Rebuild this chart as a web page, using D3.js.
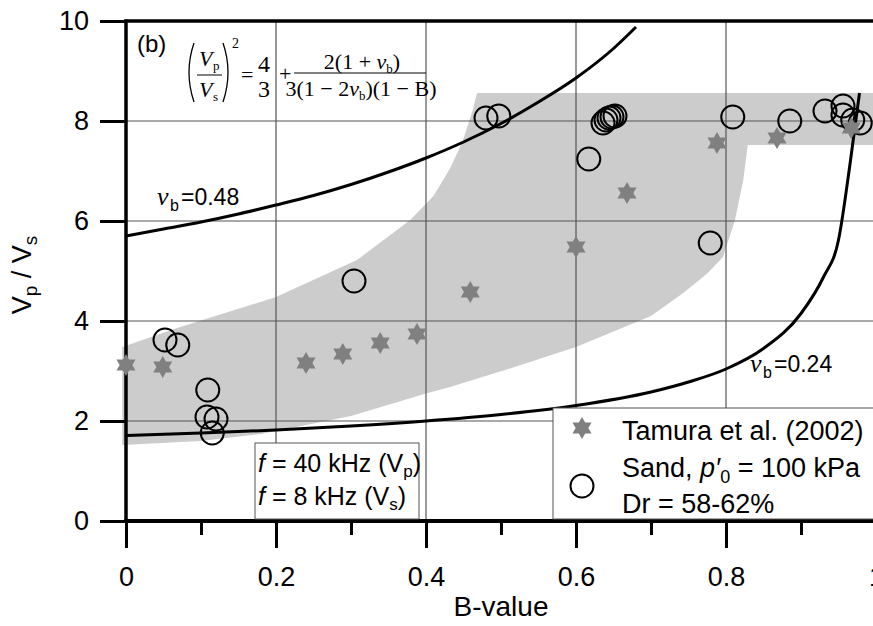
<!DOCTYPE html>
<html lang="en">
<head>
<meta charset="UTF-8">
<title>Vp/Vs vs B-value</title>
<script src="https://cdn.jsdelivr.net/npm/d3@7"></script>
<style>
  body { margin: 0; background: #fff; }
  svg { display: block; font-family: "Liberation Sans", Arial, sans-serif; }
</style>
</head>
<body>
<script>
// values
const xTickValues = [0, 0.2, 0.4, 0.6, 0.8, 1]
const xTickLabels = ['0', '0.2', '0.4', '0.6', '0.8', '1']
const xMinorTicks = [0.1, 0.3, 0.5, 0.7, 0.9]
const yTickValues = [0, 2, 4, 6, 8, 10]

// Tamura et al. (2002) - stars
const tamuraB = [0, 0.049, 0.24, 0.289, 0.339, 0.388, 0.459, 0.6, 0.668, 0.788, 0.868, 0.967]
const tamuraV = [3.12, 3.08, 3.16, 3.34, 3.56, 3.74, 4.58, 5.48, 6.56, 7.56, 7.66, 7.86]

// Sand, p'0 = 100 kPa - circles
const sandB = [0.052, 0.069, 0.109, 0.108, 0.120, 0.115, 0.304, 0.480, 0.497, 0.617,
               0.636, 0.640, 0.644, 0.648, 0.652, 0.779, 0.809, 0.885, 0.932, 0.956, 0.956, 0.969, 0.979]
const sandV = [3.62, 3.52, 2.62, 2.08, 2.04, 1.76, 4.80, 8.06, 8.10, 7.24,
               7.96, 8.02, 8.06, 8.08, 8.10, 5.56, 8.08, 8.00, 8.20, 8.30, 8.12, 8.02, 7.96]

// theoretical curves
const curve48B = [0, 0.05, 0.1, 0.15, 0.2, 0.25, 0.3, 0.35, 0.4, 0.45, 0.5, 0.55, 0.6, 0.65, 0.68]
const curve48V = [5.70, 5.84, 5.98, 6.14, 6.32, 6.51, 6.73, 6.98, 7.26, 7.58, 7.95, 8.38, 8.86, 9.45, 9.88]
const curve24B = [0, 0.1, 0.2, 0.3, 0.4, 0.5, 0.6, 0.7, 0.75, 0.8, 0.85, 0.9, 0.93, 0.95, 0.965, 0.978]
const curve24V = [1.71, 1.76, 1.82, 1.90, 2.00, 2.13, 2.31, 2.58, 2.78, 3.04, 3.45, 4.15, 4.88, 5.62, 7.1, 8.56]

// grey band
const bandUpperB = [-0.005, 0.068, 0.2, 0.308, 0.379, 0.41, 0.432, 0.449, 0.462, 0.468, 1.0]
const bandUpperV = [3.48, 3.86, 4.48, 5.22, 6.02, 6.5, 7.05, 7.6, 8.2, 8.56, 8.56]
const bandLowerB = [-0.005, 0.1, 0.18, 0.3, 0.4, 0.432, 0.512, 0.6, 0.7, 0.743, 0.775, 0.796, 0.812, 0.823, 0.829, 1.0]
const bandLowerV = [1.52, 1.60, 1.74, 2.10, 2.55, 2.68, 3.05, 3.48, 4.10, 4.56, 4.95, 5.28, 6.02, 6.82, 7.52, 7.52]

const width = 873
const height = 626

const x = d3.scaleLinear().domain([0, 1]).range([126, 876])
const y = d3.scaleLinear().domain([0, 10]).range([521, 21])

const svg = d3.select('body').append('svg')
    .attr('width', width)
    .attr('height', height)

// shaded band
const upper = bandUpperB.map((b, i) => [b, bandUpperV[i]])
const lower = bandLowerB.map((b, i) => [b, bandLowerV[i]])
const band = upper.concat(lower.slice().reverse())
svg.append('path')
    .attr('d', d3.line().x(d => x(d[0])).y(d => y(d[1]))(band) + 'Z')
    .attr('fill', '#cccccc')

// grid
const grid = svg.append('g').attr('stroke', '#555').attr('stroke-width', 1.2)
grid.selectAll('line.v')
    .data([0.2, 0.4, 0.6, 0.8])
    .enter().append('line')
    .attr('x1', d => x(d)).attr('x2', d => x(d))
    .attr('y1', y(10)).attr('y2', y(0))
grid.selectAll('line.h')
    .data([2, 4, 6, 8])
    .enter().append('line')
    .attr('x1', x(0)).attr('x2', width)
    .attr('y1', d => y(d)).attr('y2', d => y(d))

// curves
const curveLine = d3.line().x(d => x(d[0])).y(d => y(d[1])).curve(d3.curveMonotoneX)
svg.append('path')
    .attr('d', curveLine(curve48B.map((b, i) => [b, curve48V[i]])))
    .attr('fill', 'none').attr('stroke', '#000').attr('stroke-width', 3)
svg.append('path')
    .attr('d', curveLine(curve24B.map((b, i) => [b, curve24V[i]])))
    .attr('fill', 'none').attr('stroke', '#000').attr('stroke-width', 3)

// axes
const xAxis = svg.append('g')
    .attr('transform', `translate(0,${y(0)})`)
    .call(d3.axisBottom(x).tickValues(xTickValues).tickFormat((d, i) => xTickLabels[i]).tickSize(27).tickPadding(19))
xAxis.select('.domain').remove()
xAxis.selectAll('line').attr('stroke-width', 3)
xAxis.selectAll('text').attr('font-size', 27).attr('font-family', 'Liberation Sans, Arial').attr('fill', '#000')

const xMinor = svg.append('g')
    .attr('transform', `translate(0,${y(0)})`)
    .call(d3.axisBottom(x).tickValues(xMinorTicks).tickFormat('').tickSize(14))
xMinor.select('.domain').remove()
xMinor.selectAll('line').attr('stroke-width', 3)

const yAxis = svg.append('g')
    .attr('transform', `translate(${x(0)},0)`)
    .call(d3.axisLeft(y).tickValues(yTickValues).tickSize(26).tickPadding(11))
yAxis.select('.domain').remove()
yAxis.selectAll('line').attr('stroke-width', 3)
yAxis.selectAll('text').attr('font-size', 27).attr('font-family', 'Liberation Sans, Arial').attr('fill', '#000')

svg.append('line')
    .attr('x1', x(0)).attr('x2', x(0)).attr('y1', y(10) - 1.5).attr('y2', y(0) + 2)
    .attr('stroke', '#000').attr('stroke-width', 3.5)
svg.append('line')
    .attr('x1', x(0) - 1.5).attr('x2', width).attr('y1', y(0)).attr('y2', y(0))
    .attr('stroke', '#000').attr('stroke-width', 4)
svg.append('line')
    .attr('x1', x(0) - 1.5).attr('x2', width).attr('y1', y(10)).attr('y2', y(10))
    .attr('stroke', '#000').attr('stroke-width', 3.5)

// axis titles
svg.append('text')
    .attr('x', 501).attr('y', 616)
    .attr('text-anchor', 'middle')
    .attr('font-size', 28)
    .text('B-value')

const yTitle = svg.append('text')
    .attr('transform', 'translate(31,275) rotate(-90)')
    .attr('text-anchor', 'middle')
    .attr('font-size', 27)
yTitle.append('tspan').text('V')
yTitle.append('tspan').attr('font-size', 19).attr('dy', 6).text('p')
yTitle.append('tspan').attr('dy', -6).text(' / V')
yTitle.append('tspan').attr('font-size', 19).attr('dy', 6).text('s')

// hexagram marker
function hexagram(R) {
    const r = R / Math.sqrt(3)
    const pts = []
    for (let k = 0; k < 12; k++) {
        const a = (-90 + k * 30) * Math.PI / 180
        const rad = k % 2 === 0 ? R : r
        pts.push([rad * Math.cos(a), rad * Math.sin(a)])
    }
    return 'M' + pts.map(p => p.join(',')).join('L') + 'Z'
}

// markers
svg.append('g')
    .selectAll('circle')
    .data(sandB.map((b, i) => [b, sandV[i]]))
    .enter().append('circle')
    .attr('cx', d => x(d[0]))
    .attr('cy', d => y(d[1]))
    .attr('r', 11.5)
    .attr('fill', 'none')
    .attr('stroke', '#000')
    .attr('stroke-width', 2)

svg.append('g')
    .selectAll('path')
    .data(tamuraB.map((b, i) => [b, tamuraV[i]]))
    .enter().append('path')
    .attr('d', hexagram(11))
    .attr('transform', d => `translate(${x(d[0])},${y(d[1])})`)
    .attr('fill', '#808080')

// curve labels
function nuLabel(x0, yb, eqX, value) {
    const g = svg.append('g')
    g.append('text').attr('x', x0).attr('y', yb)
        .attr('font-family', 'Liberation Serif, Times New Roman, serif')
        .attr('font-style', 'italic').attr('font-size', 26).text('ν')
    g.append('text').attr('x', x0 + 13).attr('y', yb + 6)
        .attr('font-size', 16).text('b')
    g.append('text').attr('x', eqX).attr('y', yb)
        .attr('font-size', 23).text('=' + value)
}
nuLabel(157, 205, 181, '0.48')
nuLabel(750, 372, 774, '0.24')

// panel label and equation
svg.append('text').attr('x', 137).attr('y', 52).attr('font-size', 24).text('(b)')

const eq = svg.append('g')
    .attr('font-family', 'Liberation Serif, Times New Roman, serif')
    .attr('font-size', 22)
eq.append('path').attr('d', 'M194,43 Q184,72 194,102').attr('fill', 'none').attr('stroke', '#000').attr('stroke-width', 1.3)
eq.append('path').attr('d', 'M223,43 Q233,72 223,102').attr('fill', 'none').attr('stroke', '#000').attr('stroke-width', 1.3)
eq.append('text').attr('x', 199).attr('y', 66).attr('font-style', 'italic').text('V')
eq.append('text').attr('x', 213).attr('y', 70).attr('font-size', 13).text('p')
eq.append('line').attr('x1', 197).attr('x2', 222).attr('y1', 75).attr('y2', 75).attr('stroke', '#000').attr('stroke-width', 1)
eq.append('text').attr('x', 199).attr('y', 97).attr('font-style', 'italic').text('V')
eq.append('text').attr('x', 213).attr('y', 101).attr('font-size', 13).text('s')
eq.append('text').attr('x', 232).attr('y', 48).attr('font-size', 14).text('2')
eq.append('text').attr('x', 241).attr('y', 82).text('=')
eq.append('text').attr('x', 258).attr('y', 72).attr('font-size', 24).text('4')
eq.append('text').attr('x', 258).attr('y', 97).attr('font-size', 24).text('3')
eq.append('text').attr('x', 279).attr('y', 81).text('+')
const num = eq.append('text').attr('x', 362).attr('y', 69).attr('text-anchor', 'middle')
num.append('tspan').text('2(1 + ')
num.append('tspan').attr('font-style', 'italic').text('ν')
num.append('tspan').attr('font-size', 13).attr('dy', 4).text('b')
num.append('tspan').attr('dy', -4).text(')')
eq.append('line').attr('x1', 294).attr('x2', 426).attr('y1', 73).attr('y2', 73).attr('stroke', '#000').attr('stroke-width', 1)
const den = eq.append('text').attr('x', 361).attr('y', 96).attr('text-anchor', 'middle')
den.append('tspan').text('3(1 − 2')
den.append('tspan').attr('font-style', 'italic').text('ν')
den.append('tspan').attr('font-size', 13).attr('dy', 4).text('b')
den.append('tspan').attr('dy', -4).text(')(1 − B)')

// frequency box
svg.append('rect')
    .attr('x', 255).attr('y', 443).attr('width', 164).attr('height', 76)
    .attr('fill', '#fff').attr('stroke', '#555').attr('stroke-width', 1)
const f1 = svg.append('text').attr('x', 258).attr('y', 472).attr('font-size', 25)
f1.append('tspan').attr('font-style', 'italic').text('f')
f1.append('tspan').text(' = 40 kHz (V')
f1.append('tspan').attr('font-size', 17).attr('dy', 5).text('p')
f1.append('tspan').attr('dy', -5).text(')')
const f2 = svg.append('text').attr('x', 258).attr('y', 505).attr('font-size', 25)
f2.append('tspan').attr('font-style', 'italic').text('f')
f2.append('tspan').text(' = 8 kHz (V')
f2.append('tspan').attr('font-size', 17).attr('dy', 5).text('s')
f2.append('tspan').attr('dy', -5).text(')')

// legend
const legend = svg.append('g')
legend.append('rect')
    .attr('x', 553).attr('y', 408).attr('width', 330).attr('height', 111)
    .attr('fill', '#fff').attr('stroke', '#555').attr('stroke-width', 1)
legend.append('path')
    .attr('d', hexagram(11))
    .attr('transform', 'translate(582,428)')
    .attr('fill', '#808080')
legend.append('circle')
    .attr('cx', 582).attr('cy', 486).attr('r', 11.5)
    .attr('fill', 'none').attr('stroke', '#000').attr('stroke-width', 2)
legend.append('text').attr('x', 622).attr('y', 440).attr('font-size', 27).text('Tamura et al. (2002)')
const l2 = legend.append('text').attr('x', 622).attr('y', 477).attr('font-size', 27)
l2.append('tspan').text('Sand, ')
l2.append('tspan').attr('font-style', 'italic').text('p′')
l2.append('tspan').attr('font-size', 18).attr('dy', 6).text('0')
l2.append('tspan').attr('dy', -6).text(' = 100 kPa')
legend.append('text').attr('x', 622).attr('y', 513).attr('font-size', 27).text('Dr = 58-62%')
</script>
</body>
</html>
